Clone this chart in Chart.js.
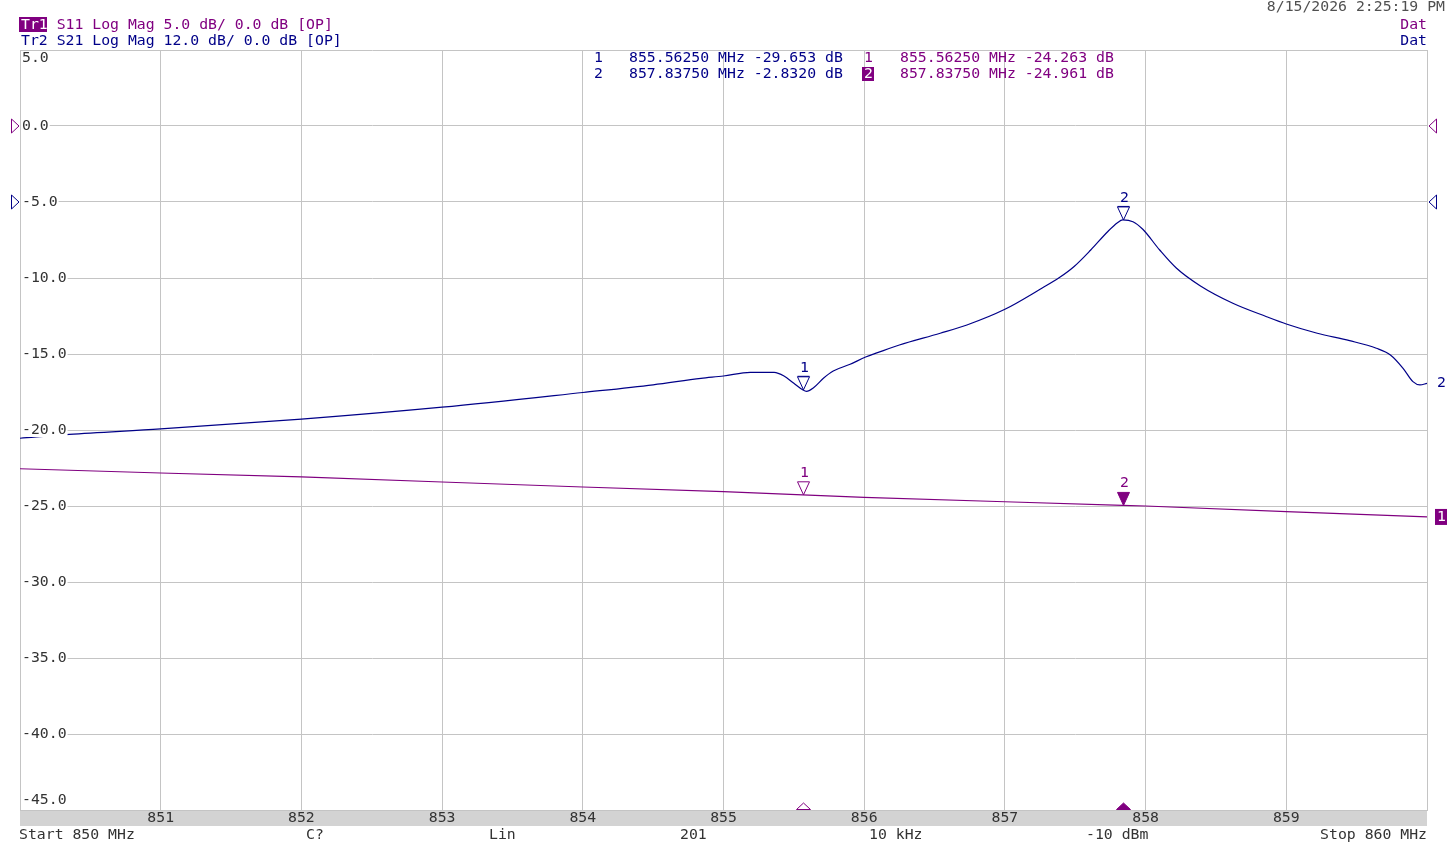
<!DOCTYPE html>
<html>
<head>
<meta charset="utf-8">
<script src="https://cdn.jsdelivr.net/npm/chart.js@4.4.0/dist/chart.umd.min.js"></script>
<style>
  html, body { margin: 0; padding: 0; background: #fff; }
  #wrap { width: 1447px; height: 844px; position: relative; }
</style>
</head>
<body>
<div id="wrap"><canvas id="vna"></canvas></div>
<script>
// Tr2 S21 trace (dB)
const s21Freq = [850, 850.35, 851, 852, 853, 854, 854.5, 854.84, 855.0, 855.19, 855.36, 855.43, 855.5,
  855.5625, 855.59, 855.64, 855.71, 855.78, 855.9, 856.01, 856.1, 856.25, 856.54, 856.73, 857, 857.25,
  857.39, 857.49, 857.61, 857.73, 857.8, 857.8375, 857.91, 857.98, 858.1, 858.22, 858.39,
  858.62, 858.86, 859, 859.22, 859.45, 859.64, 859.74, 859.83, 859.9, 859.95, 860];
const s21Db = [-37.3, -36.68, -35.83, -34.29, -32.40, -30.08, -28.86, -27.84, -27.47, -26.89, -26.89, -27.47, -28.63,
  -29.653, -29.90, -29.32, -27.84, -26.69, -25.63, -24.48, -23.75, -22.58, -20.73, -19.42, -16.94, -13.78,
  -11.89, -10.22, -7.58, -4.69, -3.27, -2.832, -3.11, -4.31, -7.58, -10.47, -13.26,
  -15.99, -18.11, -19.26, -20.73, -21.90, -23.10, -24.16, -26.26, -28.37, -28.89, -28.62];

// Tr1 S11 trace (dB)
const s11Freq = [850, 851, 852, 853, 854, 855, 855.5625, 856, 857, 857.8375, 858, 859, 860];
const s11Db = [-22.55, -22.83, -23.09, -23.42, -23.75, -24.05, -24.263, -24.43, -24.72, -24.961, -25.0, -25.37, -25.72];

// markers
const markerFreq = [855.5625, 857.8375];
const markerS21 = [-29.653, -2.832];
const markerS11 = [-24.263, -24.961];

const xTicks = [851, 852, 853, 854, 855, 856, 857, 858, 859];
const yTicks = [5, 0, -5, -10, -15, -20, -25, -30, -35, -40, -45];
const yTickLabels = ['5.0', '0.0', '-5.0', '-10.0', '-15.0', '-20.0', '-25.0', '-30.0', '-35.0', '-40.0', '-45.0'];

const PURPLE = '#800080';
const NAVY = '#000088';
const TXT = '#333333';
const FONT = '14.8px "DejaVu Sans Mono", "Liberation Mono", monospace';

function toPoints(fx, fy) {
  return fx.map((f, i) => ({ x: f, y: fy[i] }));
}

function tri(ctx, pts, color, filled) {
  ctx.beginPath();
  ctx.moveTo(pts[0][0], pts[0][1]);
  ctx.lineTo(pts[1][0], pts[1][1]);
  ctx.lineTo(pts[2][0], pts[2][1]);
  ctx.closePath();
  ctx.lineWidth = 1;
  if (filled) { ctx.fillStyle = color; ctx.fill(); }
  ctx.strokeStyle = color;
  ctx.stroke();
}

function txt(ctx, s, x, y, color, align) {
  ctx.fillStyle = color;
  ctx.textAlign = align || 'left';
  ctx.fillText(s, x, y);
}

const vnaOverlay = {
  id: 'vnaOverlay',
  beforeDraw(chart) {
    const ctx = chart.ctx, a = chart.chartArea;
    ctx.save();
    ctx.fillStyle = '#fff';
    ctx.fillRect(0, 0, chart.width, chart.height);
    ctx.fillStyle = '#d3d3d3';
    ctx.fillRect(a.left, a.bottom, a.right - a.left, 16);
    ctx.restore();
  },
  afterDraw(chart) {
    const ctx = chart.ctx, a = chart.chartArea;
    const sx = chart.scales.x, sy = chart.scales.y, sy2 = chart.scales.y2;
    ctx.save();
    ctx.font = FONT;
    ctx.textBaseline = 'middle';

    // header
    ctx.fillStyle = PURPLE;
    ctx.fillRect(19, 17, 28, 15);
    txt(ctx, 'Tr1', 21, 25, '#fff');
    txt(ctx, '    S11 Log Mag 5.0 dB/ 0.0 dB [OP]', 21, 25, PURPLE);
    txt(ctx, 'Tr2 S21 Log Mag 12.0 dB/ 0.0 dB [OP]', 21, 41, NAVY);
    txt(ctx, '8/15/2026 2:25:19 PM', 1445, 7, '#505050', 'right');
    txt(ctx, 'Dat', 1427, 25, PURPLE, 'right');
    txt(ctx, 'Dat', 1427, 41, NAVY, 'right');

    // marker table
    for (let i = 0; i < markerFreq.length; i++) {
      const y = 58 + i * 16;
      const f = markerFreq[i].toFixed(5) + ' MHz';
      const v21 = markerS21[i];
      const s21s = (Math.abs(v21) < 10 ? v21.toFixed(4) : v21.toFixed(3)) + ' dB';
      txt(ctx, String(i + 1), 594, y, NAVY);
      txt(ctx, f + ' ' + s21s, 629, y, NAVY);
      if (i === 1) {
        ctx.fillStyle = PURPLE;
        ctx.fillRect(862, y - 7, 12, 14);
        txt(ctx, String(i + 1), 864, y, '#fff');
      } else {
        txt(ctx, String(i + 1), 864, y, PURPLE);
      }
      txt(ctx, f + ' ' + markerS11[i].toFixed(3) + ' dB', 900, y, PURPLE);
    }

    // y tick labels (Tr1 scale), inside plot
    yTicks.forEach((t, i) => {
      let y = sy.getPixelForValue(t);
      y = Math.min(Math.max(y, a.top + 8), a.bottom - 10);
      const w = ctx.measureText(yTickLabels[i]).width;
      ctx.fillStyle = '#fff';
      ctx.fillRect(a.left + 1, y - 7, w + 2, 14);
      txt(ctx, yTickLabels[i], a.left + 2, y, TXT);
    });

    // x tick labels in the grey band
    xTicks.forEach(t => {
      txt(ctx, String(t), sx.getPixelForValue(t), a.bottom + 8, TXT, 'center');
    });

    // bottom status row
    const by = 835;
    txt(ctx, 'Start 850 MHz', 19, by, TXT);
    txt(ctx, 'C?', 306, by, TXT);
    txt(ctx, 'Lin', 489, by, TXT);
    txt(ctx, '201', 680, by, TXT);
    txt(ctx, '10 kHz', 869, by, TXT);
    txt(ctx, '-10 dBm', 1086, by, TXT);
    txt(ctx, 'Stop 860 MHz', 1427, by, TXT, 'right');

    // reference level arrows
    const r1 = sy.getPixelForValue(0), r2 = sy2.getPixelForValue(0);
    [[r1, PURPLE], [r2, NAVY]].forEach(([ry, c]) => {
      tri(ctx, [[11.5, ry - 7], [11.5, ry + 7], [19, ry]], c, false);
      tri(ctx, [[1436.5, ry - 7], [1436.5, ry + 7], [1429, ry]], c, false);
    });

    // trace end labels
    const e2 = sy2.getPixelForValue(s21Db[s21Db.length - 1]);
    txt(ctx, '2', 1437, e2, NAVY);
    const e1 = sy.getPixelForValue(s11Db[s11Db.length - 1]);
    ctx.fillStyle = PURPLE;
    ctx.fillRect(1435, e1 - 8, 12, 16);
    txt(ctx, '1', 1437, e1, '#fff');

    // markers on the traces
    markerFreq.forEach((f, i) => {
      const px = Math.round(sx.getPixelForValue(f)) + 0.5;
      const yb = sy2.getPixelForValue(markerS21[i]);
      tri(ctx, [[px - 6, yb - 13], [px + 6, yb - 13], [px, yb]], NAVY, false);
      ctx.beginPath(); ctx.moveTo(px - 6, yb - 13.5); ctx.lineTo(px + 6, yb - 13.5); ctx.stroke();
      txt(ctx, String(i + 1), px + 1, yb - 22, NAVY, 'center');
      const yp = sy.getPixelForValue(markerS11[i]);
      tri(ctx, [[px - 6, yp - 13], [px + 6, yp - 13], [px, yp]], PURPLE, i === 1);
      txt(ctx, String(i + 1), px + 1, yp - 22, PURPLE, 'center');
      tri(ctx, [[px - 7, a.bottom - 0.5], [px + 7, a.bottom - 0.5], [px, a.bottom - 7]], PURPLE, i === 1);
    });
    ctx.restore();
  }
};

new Chart(document.getElementById('vna').getContext('2d'), {
  type: 'line',
  data: {
    datasets: [
      {
        label: 'S11',
        data: toPoints(s11Freq, s11Db),
        yAxisID: 'y',
        borderColor: PURPLE,
        borderWidth: 1.2,
        pointRadius: 0,
        tension: 0
      },
      {
        label: 'S21',
        data: toPoints(s21Freq, s21Db),
        yAxisID: 'y2',
        borderColor: NAVY,
        borderWidth: 1.2,
        pointRadius: 0,
        cubicInterpolationMode: 'monotone'
      }
    ]
  },
  options: {
    responsive: true,
    maintainAspectRatio: false,
    animation: false,
    devicePixelRatio: 1,
    layout: { padding: { left: 20, right: 20, top: 50, bottom: 34 } },
    plugins: { legend: { display: false }, tooltip: { enabled: false } },
    scales: {
      x: {
        type: 'linear', min: 850, max: 860,
        ticks: { display: false, stepSize: 1 },
        grid: { color: '#c4c4c4', drawTicks: false },
        border: { color: '#c4c4c4' }
      },
      y: {
        min: -45, max: 5,
        ticks: { display: false, stepSize: 5 },
        grid: { color: '#c4c4c4', drawTicks: false },
        border: { color: '#c4c4c4' }
      },
      y2: {
        display: false,
        min: -96, max: 24
      }
    }
  },
  plugins: [vnaOverlay]
});
</script>
</body>
</html>
